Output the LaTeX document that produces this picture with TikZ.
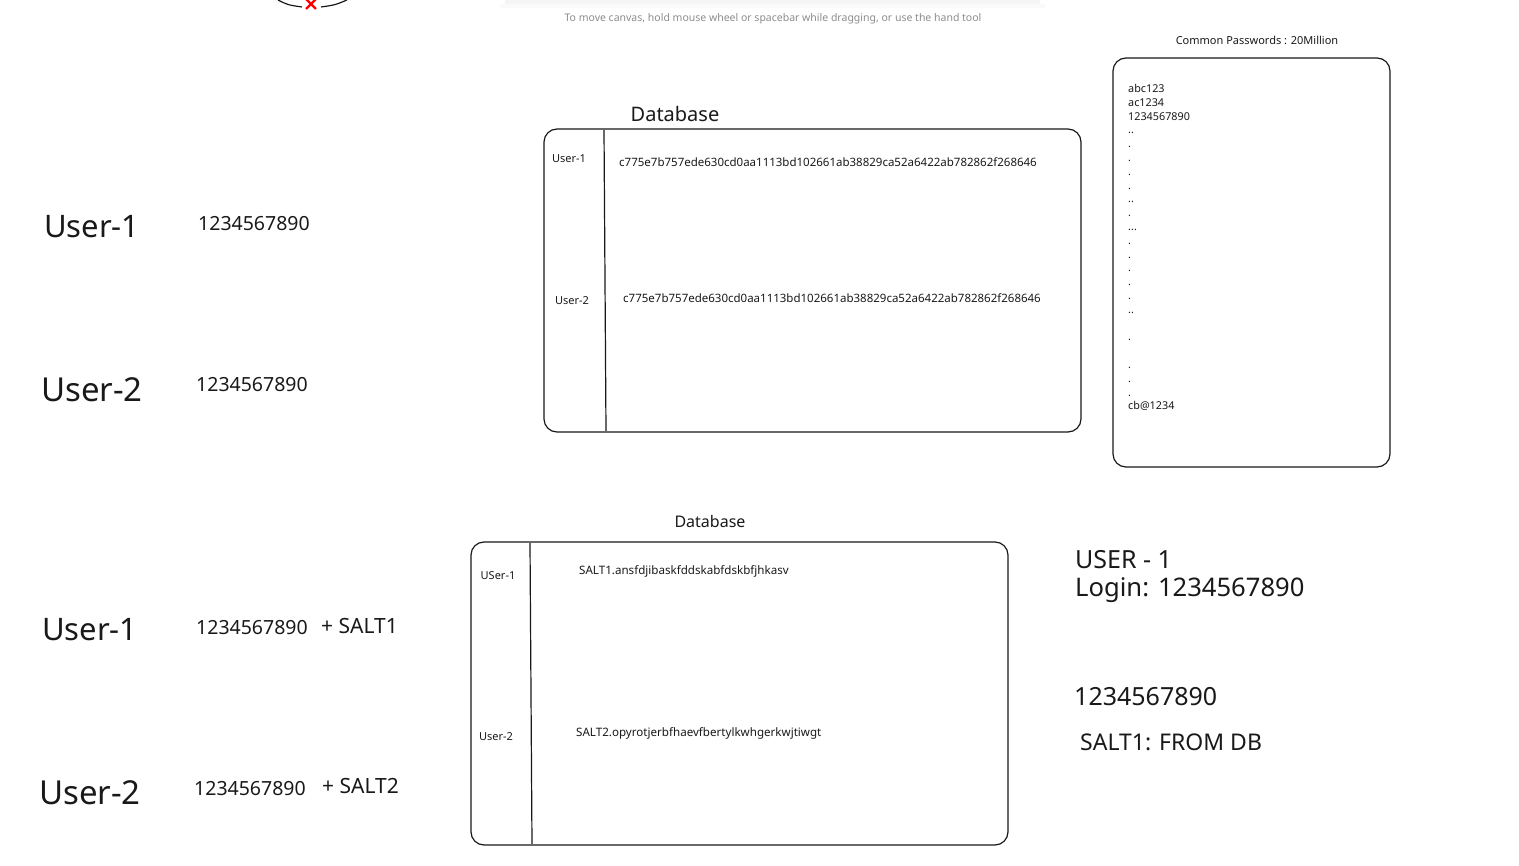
\documentclass[tikz,border=0pt]{standalone}
\usepackage{fontspec}
\setmainfont{Noto Sans}
\begin{document}
\begin{tikzpicture}[x=1pt,y=-1pt,
  box/.style={draw=black!90,line width=1.2pt,rounded corners=13pt},
  sep/.style={draw=black!90,line width=1.2pt},
  txt/.style={inner sep=0pt,text=black!90},
  fs/.style={font=\fontsize{#1}{#1}\selectfont}]
\useasboundingbox (0,0) rectangle (1519,866);
% partial shape at top left
\coordinate (arcL) at (278,0);
\coordinate (arcR) at (347,0);
\coordinate (arcA) at (302,7);
\coordinate (arcB) at (321,7);
\draw[line width=1.2pt,black!90] (arcL) .. controls (288,5) .. (arcA);
\draw[line width=1.2pt,black!90] (arcB) .. controls (335,5) .. (arcR);
\coordinate (xc) at (311,4);
\draw[red,line width=2.2pt] ([shift={(-5,-5)}]xc) -- ([shift={(5,5)}]xc);
\draw[red,line width=2.2pt] ([shift={(5,-5)}]xc) -- ([shift={(-5,5)}]xc);
% toolbar shadow
\fill[black!4] (505,0) rectangle (1040,4);
\fill[black!2] (500,4) rectangle (1045,8);
\node[txt,text=black!45,fs=10.5] (hint) at (773,19) {To move canvas, hold mouse wheel or spacebar while dragging, or use the hand tool};
% left texts top
\node[txt,fs=31,anchor=west] (u1) at (44,227) {User-1};
\node[txt,fs=19.5,anchor=west] (p1) at (198,224) {1234567890};
\node[txt,fs=33,anchor=west] (u2) at (41,390) {User-2};
\node[txt,fs=19.5,anchor=west] (p2) at (196,385) {1234567890};
% top database
\node[txt,fs=20] (db1lbl) at (675,114) {Database};
\draw[box] (544,129) rectangle (1081,432);
\coordinate (d1t) at (604,130);
\coordinate (d1b) at (606,431);
\draw[sep] (d1t) -- (d1b);
\node[txt,fs=11] (db1u1) at (569,159) {User-1};
\node[txt,fs=11.5,anchor=west] (db1h1) at (619,162) {c775e7b757ede630cd0aa1113bd102661ab38829ca52a6422ab782862f268646};
\node[txt,fs=11] (db1u2) at (572,301) {User-2};
\node[txt,fs=11.5,anchor=west] (db1h2) at (623,298) {c775e7b757ede630cd0aa1113bd102661ab38829ca52a6422ab782862f268646};
% common passwords
\node[txt,fs=11] (cptitle) at (1257,40) {Common Passwords : 20Million};
\draw[box] (1113,58) rectangle (1390,467);
\node[txt,anchor=north west,align=left,font=\fontsize{10.8}{13.8}\selectfont] (cplist) at (1128,84) {abc123\\ac1234\\1234567890\\..\\.\\.\\.\\.\\..\\.\\...\\.\\.\\.\\.\\.\\..\\\mbox{}\\.\\\mbox{}\\.\\.\\.\\cb@1234};
% bottom left texts
\node[txt,fs=31,anchor=west] (u3) at (42,630) {User-1};
\node[txt,fs=19.5,anchor=west] (p3) at (196,628) {1234567890};
\node[txt,fs=21,anchor=west] (s1) at (321,626) {+ SALT1};
\node[txt,fs=33,anchor=west] (u4) at (39,793) {User-2};
\node[txt,fs=19.5,anchor=west] (p4) at (194,789) {1234567890};
\node[txt,fs=21,anchor=west] (s2) at (322,786) {+ SALT2};
% bottom database
\node[txt,fs=16] (db2lbl) at (710,521) {Database};
\draw[box] (471,542) rectangle (1008,845);
\coordinate (d2t) at (530,543);
\coordinate (d2b) at (532,844);
\draw[sep] (d2t) -- (d2b);
\node[txt,fs=11] (db2u1) at (498,576) {USer-1};
\node[txt,fs=11.6,anchor=west] (db2h1) at (579,571) {SALT1.ansfdjibaskfddskabfdskbfjhkasv};
\node[txt,fs=11] (db2u2) at (496,737) {User-2};
\node[txt,fs=11.6,anchor=west] (db2h2) at (576,733) {SALT2.opyrotjerbfhaevfbertylkwhgerkwjtiwgt};
% right login texts
\node[txt,fs=25,anchor=west] (rl1) at (1075,560) {USER - 1};
\node[txt,fs=25.6,anchor=west] (rl2) at (1075,590) {Login: 1234567890};
\node[txt,fs=25,anchor=west] (rl3) at (1074,697) {1234567890};
\node[txt,fs=23,anchor=west] (rl4) at (1080,742) {SALT1: FROM DB};
\end{tikzpicture}
\end{document}
